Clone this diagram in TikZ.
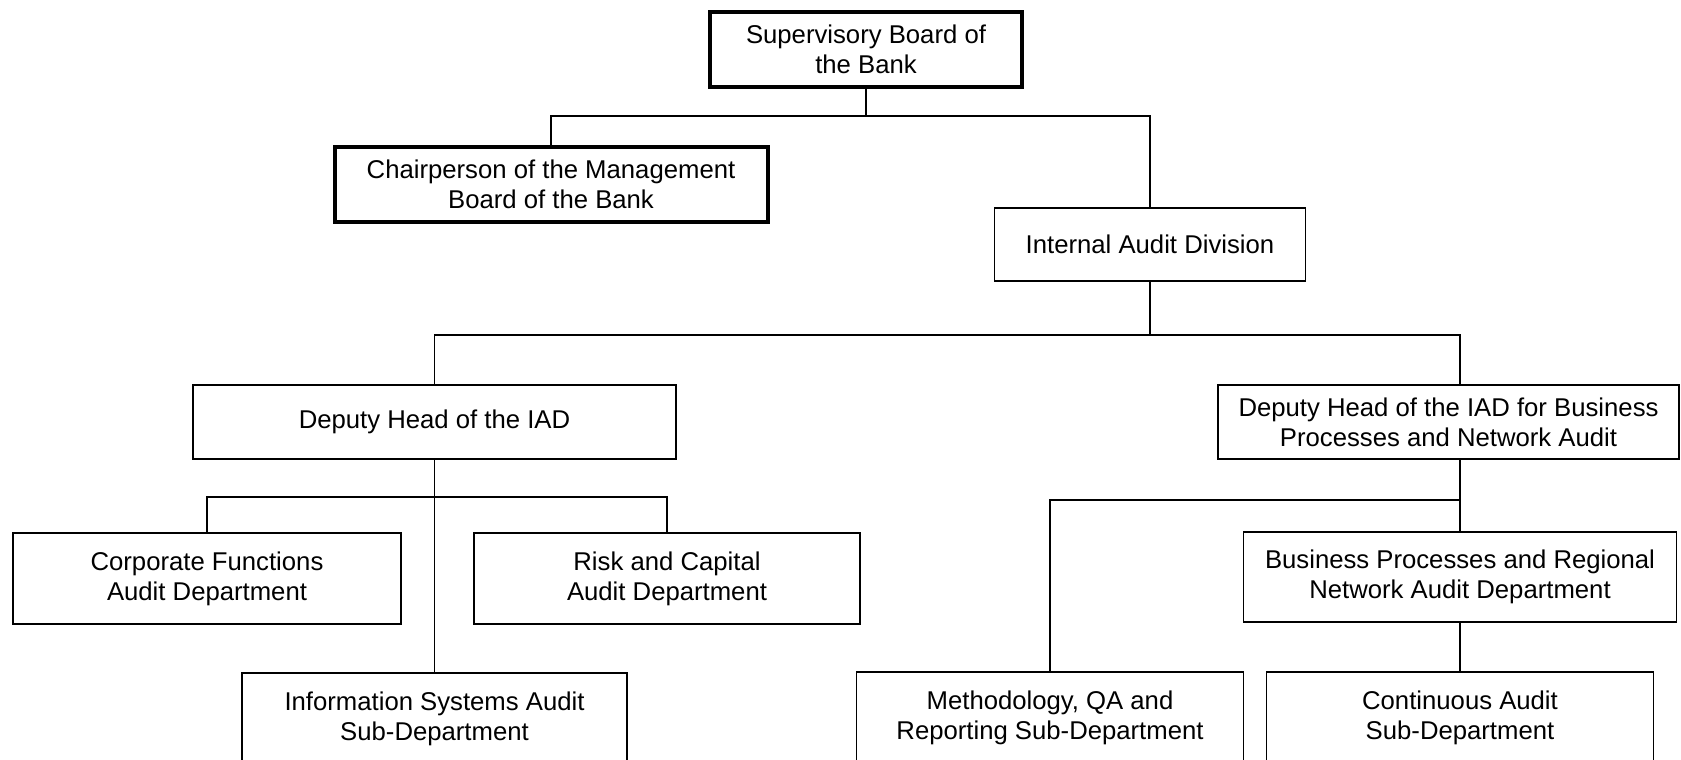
\documentclass[tikz,border=0pt]{standalone}
\usepackage{fontspec}
\setmainfont{Liberation Sans}
\begin{document}
\begin{tikzpicture}[x=0.5pt,y=-0.5pt,
  box/.style={draw=black,line width=0.8pt,fill=white,align=center,inner sep=0pt,font=\fontsize{12.85}{15}\selectfont},
  thickbox/.style={box,line width=2pt},
  conn/.style={draw=black,line width=0.75pt}]
\useasboundingbox (0,0) rectangle (1681,760);
% boxes
\node[thickbox,minimum width=156pt,minimum height=37.5pt] (sup) at (866,49.5) {Supervisory Board of\\the Bank};
\node[thickbox,minimum width=216.5pt,minimum height=37.5pt] (chair) at (551,184.5) {Chairperson of the Management\\Board of the Bank};
\node[box,minimum width=155.5pt,minimum height=36.5pt] (iad) at (1150,244.5) {Internal Audit Division};
\node[box,minimum width=241.5pt,minimum height=37pt] (dep1) at (434.5,422) {Deputy Head of the IAD};
\node[box,minimum width=230.5pt,minimum height=37pt] (dep2) at (1448.5,422) {Deputy Head of the IAD for Business\\Processes and Network Audit};
\node[box,minimum width=194pt,minimum height=45.5pt] (corp) at (207,578.5) {Corporate Functions\\Audit Department};
\node[box,minimum width=193pt,minimum height=45.5pt] (risk) at (667,578.5) {Risk and Capital\\Audit Department};
\node[box,minimum width=192.5pt,minimum height=45.5pt] (is) at (434.5,718.5) {Information Systems Audit\\Sub-Department};
\node[box,minimum width=193.5pt,minimum height=45.5pt] (meth) at (1050,717.5) {Methodology, QA and\\Reporting Sub-Department};
\node[box,minimum width=216.5pt,minimum height=45pt] (bp) at (1460,577) {Business Processes and Regional\\Network Audit Department};
\node[box,minimum width=193.5pt,minimum height=45.5pt] (cont) at (1460,717.5) {Continuous Audit\\Sub-Department};
% connector levels
\coordinate (b1) at (0,116);
\coordinate (b2) at (0,335);
\coordinate (b3) at (0,497);
\coordinate (b4) at (0,500);
\coordinate (d2) at (1460,0);
% connectors
\draw[conn] (sup.south) -- (sup.south |- b1);
\draw[conn] (chair.north) |- (iad.north |- b1) -- (iad.north);
\draw[conn] (iad.south) -- (iad.south |- b2);
\draw[conn] (dep1.north) |- (d2 |- b2) -- (d2 |- dep2.north);
\draw[conn] (dep1.south) -- (is.north);
\draw[conn] (corp.north) |- (risk.north |- b3) -- (risk.north);
\draw[conn] (d2 |- dep2.south) -- (bp.north);
\draw[conn] (meth.north) |- (bp.north |- b4);
\draw[conn] (bp.south) -- (cont.north);
\end{tikzpicture}
\end{document}
